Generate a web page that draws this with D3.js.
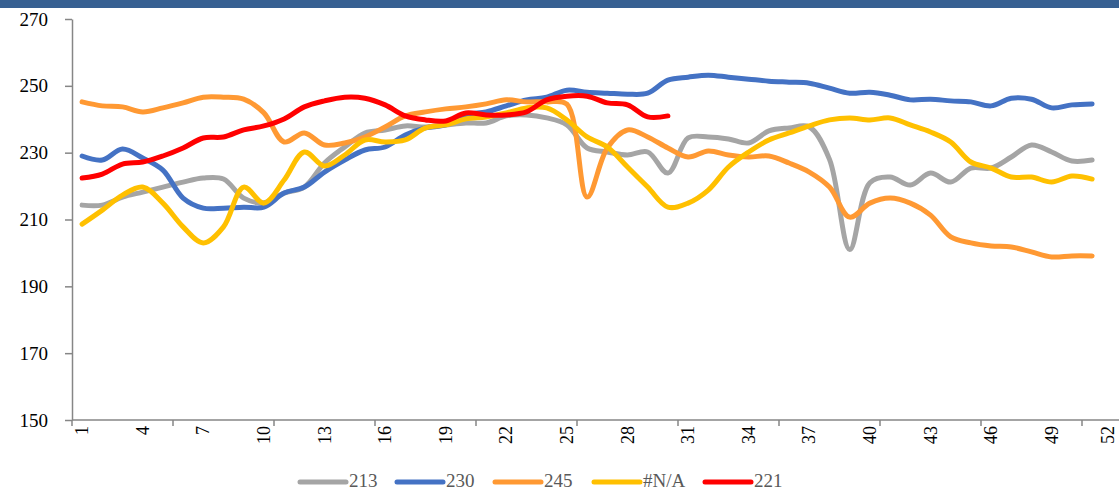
<!DOCTYPE html>
<html>
<head>
<meta charset="utf-8">
<script src="https://cdn.jsdelivr.net/npm/d3@7/dist/d3.min.js"></script>
<style>
  html, body { margin: 0; padding: 0; background: #ffffff; }
  svg { display: block; }
</style>
</head>
<body>
<svg id="chart" width="1119" height="490"></svg>
<script>
// ---- Data ----
const categories = d3.range(1, 53); // 1..52
const tickLabels = [1, 4, 7, 10, 13, 16, 19, 22, 25, 28, 31, 34, 37, 40, 43, 46, 49, 52];
const yTicks = [150, 170, 190, 210, 230, 250, 270];

const seriesNames = ["213", "230", "245", "#N/A", "221"];
const seriesColors = ["#A5A5A5", "#4472C4", "#FF9933", "#FFC000", "#FF0000"];

const s213 = [214.3, 214.3, 216.7, 218.2, 219.7, 221.2, 222.4, 222.1, 216.4, 215,
  217.9, 219.7, 226.9, 231.7, 235.9, 236.8, 238, 237.7, 238.3, 238.9,
  238.9, 241, 241.3, 240.4, 238.3, 231.4, 230.2, 229.3, 230.2, 223.9,
  234.4, 234.7, 234.1, 232.9, 236.5, 237.4, 237.7, 228, 201, 221,
  222.7, 220.3, 223.9, 221.2, 225.4, 225.4, 228.7, 232.3, 230.2, 227.5, 227.8];
const s230 = [229, 227.8, 231.1, 228.4, 224.8, 216.4, 213.4, 213.4, 213.7, 213.7,
  217.9, 219.7, 224.2, 227.8, 230.8, 231.7, 235.3, 237.4, 238.3, 241.3,
  242.2, 244, 245.8, 246.6, 248.7, 248.1, 247.8, 247.5, 247.8, 251.7,
  252.6, 253.2, 252.6, 252, 251.4, 251.1, 250.8, 249.3, 247.8, 248.1,
  247.2, 245.8, 246, 245.5, 245.2, 244, 246.3, 246, 243.4, 244.3, 244.6];
const s245 = [245.2, 244, 243.7, 242.2, 243.4, 244.9, 246.6, 246.6, 246, 241.9,
  233.2, 235.9, 232.3, 232.9, 234.7, 237.7, 241, 242.2, 243.1, 243.7,
  244.6, 245.8, 245.2, 245.2, 244.5, 216.7, 231.4, 236.8, 234.7, 231.4,
  228.7, 230.5, 229.3, 228.7, 229, 226.9, 224.2, 219.7, 210.7, 214.9,
  216.4, 214.9, 211.3, 204.8, 203, 202.1, 201.8, 200.3, 198.8, 199.1, 199.1];
const sNA = [208.6, 212.8, 217.3, 219.7, 214.9, 207.8, 203, 207.8, 219.7, 214.9,
  221.8, 230.2, 226, 229.3, 233.8, 233.2, 233.8, 237.4, 238.3, 240.1,
  240.7, 241.9, 243.4, 243.4, 239.8, 234.7, 231.7, 225.7, 219.7, 213.7,
  214.9, 218.8, 225.7, 230.2, 233.8, 235.9, 238, 239.8, 240.4, 239.8,
  240.4, 238.3, 236.2, 233.2, 227.2, 225.4, 222.7, 222.7, 221.2, 223, 222.1];
const s221 = [222.4, 223.6, 226.6, 227.2, 229, 231.4, 234.4, 234.7, 236.8, 238,
  240.1, 243.7, 245.5, 246.6, 246.3, 244.3, 241, 239.8, 239.5, 241.9,
  241.3, 241.3, 242.2, 245.8, 246.9, 246.9, 244.9, 244.3, 240.7, 241];

const seriesValues = [s213, s230, s245, sNA, s221];

// ---- Layout ----
const svg = d3.select("#chart");
const W = 1119, H = 490;
const mLeft = 72, mTop = 19, mBottom = 420;
const catW = 20.2;
const mRight = mLeft + catW * categories.length;

// top band
svg.append("rect").attr("x", 0).attr("y", 0).attr("width", W).attr("height", 8)
  .attr("fill", "#376092");

const x = d3.scaleBand().domain(categories).range([mLeft, mRight]).padding(0);
const xc = d => x(d) + x.bandwidth() / 2;
const y = d3.scaleLinear().domain([150, 270]).range([mBottom, mTop]);

const axisColor = "#868686";
const fontSerif = "'Liberation Serif', 'Times New Roman', serif";

// Y axis
const yAxis = svg.append("g").attr("transform", `translate(${mLeft},0)`)
  .call(d3.axisLeft(y).tickValues(yTicks).tickSize(7).tickSizeOuter(0).tickPadding(17));
yAxis.select(".domain").attr("stroke", axisColor).attr("stroke-width", 1.5);
yAxis.selectAll(".tick line").attr("stroke", axisColor).attr("stroke-width", 1.5);
yAxis.selectAll(".tick text").attr("font-family", fontSerif).attr("font-size", 19)
  .attr("fill", "#000");

// X axis line
svg.append("line").attr("x1", mLeft).attr("x2", W).attr("y1", mBottom).attr("y2", mBottom)
  .attr("stroke", axisColor).attr("stroke-width", 1.5);
// x tick marks every 5 categories at boundaries
const tickBounds = d3.range(0, categories.length + 1, 5);
svg.append("g").selectAll("line").data(tickBounds).join("line")
  .attr("x1", d => mLeft + d * x.bandwidth()).attr("x2", d => mLeft + d * x.bandwidth())
  .attr("y1", mBottom).attr("y2", mBottom + 6)
  .attr("stroke", axisColor).attr("stroke-width", 1.5);
// x labels rotated (kept inside the canvas)
svg.append("g").selectAll("text").data(tickLabels).join("text")
  .attr("transform", d => `translate(${Math.min(xc(d) + 6, W - 5)},${mBottom + 6}) rotate(-90)`)
  .attr("text-anchor", "end")
  .attr("font-family", fontSerif).attr("font-size", 18).attr("fill", "#000")
  .text(d => d);

// Lines
const line = d3.line()
  .x((d, i) => xc(categories[i]))
  .y(d => y(d))
  .curve(d3.curveCatmullRom.alpha(0.5));

const plot = svg.append("g");
seriesValues.forEach((vals, k) => {
  plot.append("path")
    .attr("d", line(vals))
    .attr("fill", "none")
    .attr("stroke", seriesColors[k])
    .attr("stroke-width", 5)
    .attr("stroke-linecap", "round")
    .attr("stroke-linejoin", "round");
});

// Legend
const legendItems = [
  { x: 300, name: seriesNames[0], color: seriesColors[0] },
  { x: 397, name: seriesNames[1], color: seriesColors[1] },
  { x: 495, name: seriesNames[2], color: seriesColors[2] },
  { x: 594, name: seriesNames[3], color: seriesColors[3] },
  { x: 705, name: seriesNames[4], color: seriesColors[4] }
];
const lg = svg.append("g");
legendItems.forEach(it => {
  lg.append("line").attr("x1", it.x).attr("x2", it.x + 46)
    .attr("y1", 482).attr("y2", 482)
    .attr("stroke", it.color).attr("stroke-width", 5).attr("stroke-linecap", "round");
  lg.append("text").attr("x", it.x + 49).attr("y", 487)
    .attr("font-family", fontSerif).attr("font-size", 19).attr("fill", "#595959")
    .text(it.name);
});
</script>
</body>
</html>
